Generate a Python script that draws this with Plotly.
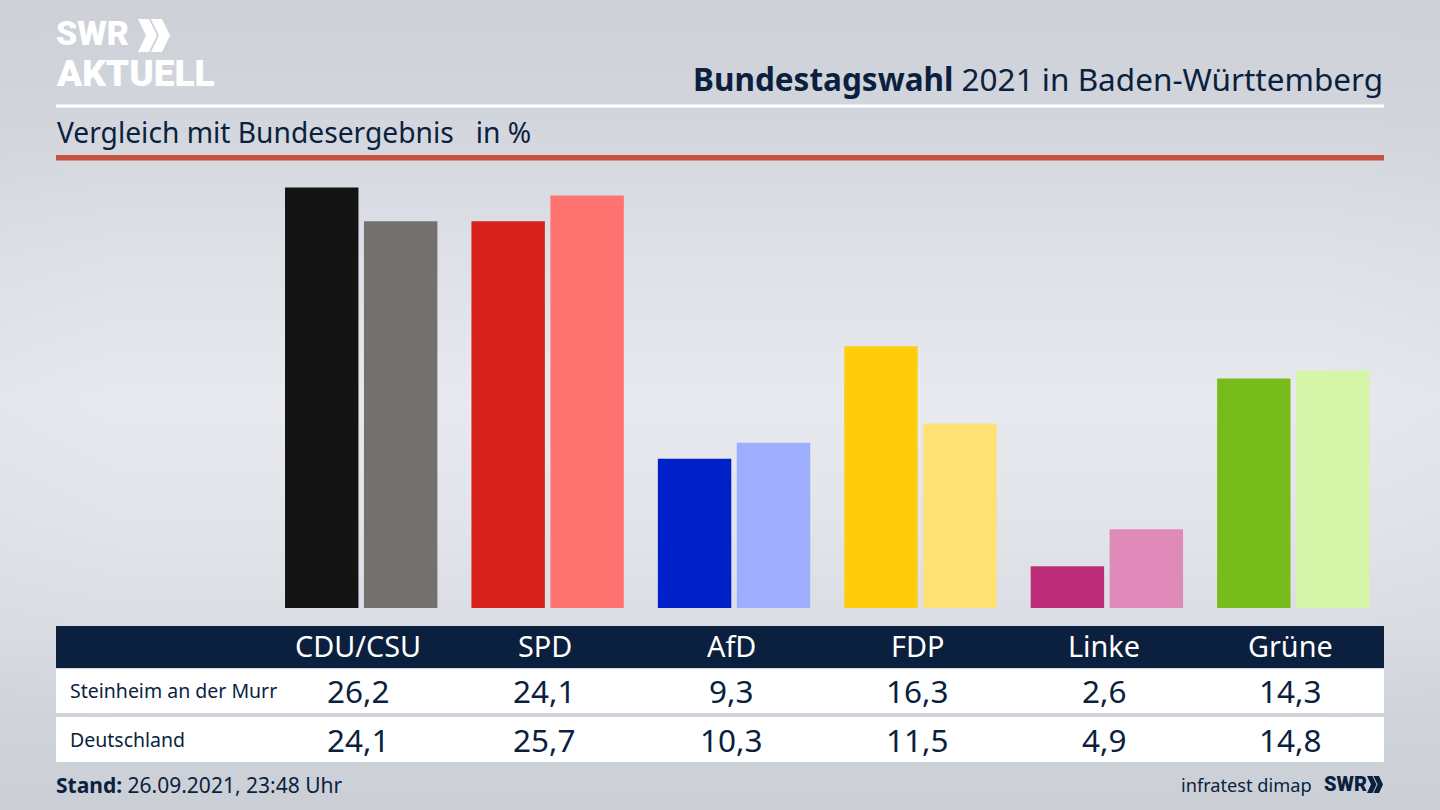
import plotly.graph_objects as go

parties = ["CDU/CSU", "SPD", "AfD", "FDP", "Linke", "Grüne"]
steinheim = [26.2, 24.1, 9.3, 16.3, 2.6, 14.3]
deutschland = [24.1, 25.7, 10.3, 11.5, 4.9, 14.8]
steinheim_colors = ["#141414", "#d71f1b", "#0020c8", "#ffcd0a", "#bc2f78", "#78bc1c"]
deutschland_colors = ["#72716f", "#ff7370", "#9fadff", "#ffe173", "#df8ab8", "#d5f5a8"]

NAVY = "#0b1f3f"
FONT = "Noto Sans"
LOGO_FONT = "Roboto"

fig = go.Figure()

# page background: soft grey gradient, axes x/y are plain page pixels
bg_y = [0, 120, 260, 400, 520, 640, 720, 810]
bg_x = [0, 120, 720, 1320, 1440]
bg_rows = [0.12, 0.30, 0.66, 0.95, 0.78, 0.50, 0.22, 0.05]
bg_edge = [0.90, 1.0, 1.0, 1.0, 0.90]
fig.add_trace(go.Heatmap(
    x=bg_x, y=bg_y,
    z=[[r * e for e in bg_edge] for r in bg_rows],
    zmin=0, zmax=1, zsmooth="best", showscale=False, hoverinfo="skip",
    colorscale=[[0, "#c9cdd4"], [1, "#e9ebf0"]],
))

fig.add_trace(go.Bar(x=parties, y=steinheim, name="Steinheim an der Murr",
                     marker=dict(color=steinheim_colors, line_width=0),
                     xaxis="x2", yaxis="y2"))
fig.add_trace(go.Bar(x=parties, y=deutschland, name="Deutschland",
                     marker=dict(color=deutschland_colors, line_width=0),
                     xaxis="x2", yaxis="y2"))


def rect(x0, y0, x1, y1, color):
    fig.add_shape(type="rect", xref="x", yref="y", x0=x0, y0=y0, x1=x1, y1=y1,
                  fillcolor=color, line_width=0, layer="above")


def chevrons(x0, y0, y1, w, t, step, color):
    # the two arrows next to the SWR logo
    mid = (y0 + y1) / 2
    for x in (x0, x0 + step):
        fig.add_shape(type="path", xref="x", yref="y", fillcolor=color, line_width=0, layer="above",
                      path=f"M{x},{y0} L{x + t},{y0} L{x + w},{mid} L{x + t},{y1} L{x},{y1} L{x + w - t},{mid} Z")


def label(x, y, text, size, color=NAVY, anchor="left", xref="x", xshift=0, family=FONT, weight=None):
    fig.add_annotation(x=x, y=y, xref=xref, yref="y", text=text, showarrow=False,
                       xanchor=anchor, yanchor="middle", xshift=xshift,
                       font=dict(family=family, size=size, color=color, weight=weight))


# header rules
rect(56, 104.5, 1384, 107.5, "#ffffff")
rect(56, 155, 1384, 160.5, "#c8513d")

# table bands
rect(56, 626, 1384, 668, NAVY)
rect(56, 669, 1384, 713, "#ffffff")
rect(56, 717, 1384, 762, "#ffffff")

# logo
label(54, 33, "SWR", 34, "#ffffff", family=LOGO_FONT, weight=900)
chevrons(138, 19, 52, 19, 11, 13, "#ffffff")
label(54, 73, "AKTUELL", 37, "#ffffff", family=LOGO_FONT, weight=900)

label(1385, 78, "<b>Bundestagswahl</b> 2021 in Baden-Württemberg", 31.5, anchor="right")
label(55, 132, "Vergleich mit Bundesergebnis   in %", 28.2)

label(68, 690, "Steinheim an der Murr", 19.5)
label(68, 739, "Deutschland", 19.5)

for party, a, b in zip(parties, steinheim, deutschland):
    label(party, 645.5, party, 28.8, "#ffffff", "center", "x2", -3)
    label(party, 690, f"{a:.1f}".replace(".", ","), 31.5, NAVY, "center", "x2", -3)
    label(party, 739, f"{b:.1f}".replace(".", ","), 31.5, NAVY, "center", "x2", -3)

label(54, 785, "<b>Stand:</b> 26.09.2021, 23:48 Uhr", 21)
label(1314, 785, "infratest dimap", 18.2, anchor="right")
label(1322, 784, "SWR", 20, family=LOGO_FONT, weight=900)
chevrons(1367, 776, 793, 9.5, 5.5, 6.5, NAVY)

fig.update_layout(
    width=1440, height=810,
    margin=dict(l=0, r=0, t=0, b=0),
    showlegend=False,
    barmode="group", bargap=0.153, bargroupgap=0.07,
    paper_bgcolor="#dcdfe4", plot_bgcolor="rgba(0,0,0,0)",
    xaxis=dict(range=[0, 1440], domain=[0, 1], visible=False),
    yaxis=dict(range=[810, 0], domain=[0, 1], visible=False),
    xaxis2=dict(domain=[268 / 1440, 1386.5 / 1440], anchor="y2", visible=False,
                type="category", categoryorder="array", categoryarray=parties),
    yaxis2=dict(domain=[202 / 810, 650 / 810], range=[0, 27.91], anchor="x2", visible=False),
)

fig.write_html("out.html", config=dict(displayModeBar=False),
               post_script="document.body.style.margin='0';")
